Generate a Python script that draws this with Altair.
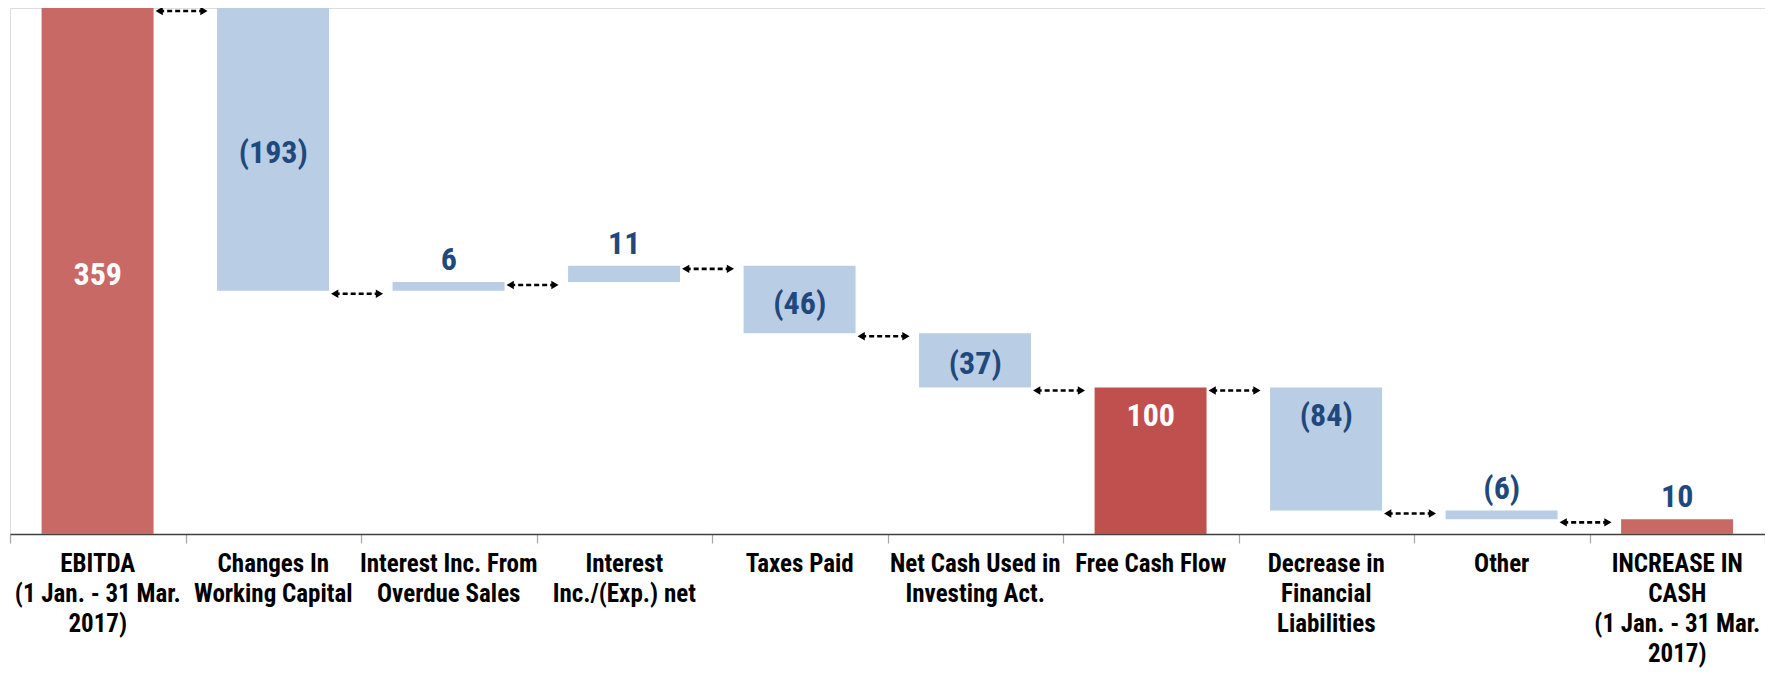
import altair as alt
import pandas as pd

categories = [
    "EBITDA\n(1 Jan. - 31 Mar.\n2017)",
    "Changes In\nWorking Capital",
    "Interest Inc. From\nOverdue Sales",
    "Interest\nInc./(Exp.) net",
    "Taxes Paid",
    "Net Cash Used in\nInvesting Act.",
    "Free Cash Flow",
    "Decrease  in\nFinancial\nLiabilities",
    "Other",
    "INCREASE IN\nCASH\n(1 Jan. -  31 Mar.\n2017)",
]
values = [359, -193, 6, 11, -46, -37, 100, -84, -6, 10]
bar_kind = ["total_a", "delta", "delta", "delta", "delta", "delta", "total_b", "delta", "delta", "total_a"]
value_labels = ["359", "(193)", "6", "11", "(46)", "(37)", "100", "(84)", "(6)", "10"]
label_place = ["center", "center", "above", "above", "center", "center", "inside", "inside", "above", "above"]

FONT = "Roboto Condensed"
BLUE_TXT = "#1F497D"

rows = []
level = 0
for i, (c, v, k, lab, pl) in enumerate(zip(categories, values, bar_kind, value_labels, label_place)):
    if k.startswith("total"):
        s, e = 0, v
    else:
        s, e = level, level + v
    level = e
    txtc = "white" if (k.startswith("total") and pl != "above") else BLUE_TXT
    rows.append(dict(idx=i, category=c, start=s, end=e, top=max(s, e), mid=(s + e) / 2,
                     kind=k, label=lab, place=pl, txtcolor=txtc))
df = pd.DataFrame(rows)

arrows = pd.DataFrame([dict(idx=i, level=df.loc[i, "end"]) for i in range(len(df) - 1)])

W, H = 1755, 526
xs = alt.Scale(domain=[0, 10], nice=False, zero=False)
ys = alt.Scale(domain=[0, 359], nice=False, zero=False)

base = alt.Chart(df)

bars = base.transform_calculate(
    x1="datum.idx + 0.18", x2="datum.idx + 0.818"
).mark_bar(stroke=None).encode(
    x=alt.X("x1:Q", scale=xs, axis=alt.Axis(values=list(range(11)), labels=False, ticks=True,
                                            tickSize=9, tickColor="#A6A6A6", tickWidth=1.2,
                                            domainColor="#404040", domainWidth=1.5,
                                            grid=False, title=None)),
    x2="x2:Q",
    y=alt.Y("start:Q", scale=ys, axis=None),
    y2="end:Q",
    color=alt.Color("kind:N", legend=None,
                    scale=alt.Scale(domain=["total_a", "total_b", "delta"],
                                    range=["#C86966", "#C0504D", "#B9CDE5"])),
)

cat_text = base.transform_calculate(xc="datum.idx + 0.5").mark_text(
    font=FONT, fontSize=25, fontWeight="bold", baseline="top", align="center",
    lineBreak="\n", lineHeight=30, color="black"
).encode(x=alt.X("xc:Q", scale=xs), y=alt.value(H + 18), text="category:N")

def val_layer(place, field, dy):
    return base.transform_filter(alt.datum.place == place).transform_calculate(
        xc="datum.idx + 0.5").mark_text(
        font=FONT, fontSize=32, fontWeight="bold", baseline="middle", align="center", dy=dy
    ).encode(x=alt.X("xc:Q", scale=xs), y=alt.Y(f"{field}:Q", scale=ys),
             text="label:N", color=alt.Color("txtcolor:N", scale=None))

v_center = val_layer("center", "mid", 4)
v_inside = val_layer("inside", "top", 29)
v_above = val_layer("above", "top", -22)

abase = alt.Chart(arrows).transform_calculate(
    a1="datum.idx + 0.85", a2="datum.idx + 1.105")
arrow_line = abase.mark_rule(color="black", strokeWidth=2.6, strokeDash=[5, 3], yOffset=3).encode(
    x=alt.X("a1:Q", scale=xs), x2="a2:Q", y=alt.Y("level:Q", scale=ys))
head_l = abase.mark_point(shape="triangle-left", filled=True, size=70, color="black",
                          opacity=1, yOffset=3).encode(
    x=alt.X("a1:Q", scale=xs), y=alt.Y("level:Q", scale=ys))
head_r = abase.mark_point(shape="triangle-right", filled=True, size=70, color="black",
                          opacity=1, yOffset=3).encode(
    x=alt.X("a2:Q", scale=xs), y=alt.Y("level:Q", scale=ys))

chart = alt.layer(bars, arrow_line, head_l, head_r, v_center, v_inside, v_above, cat_text).properties(
    width=W, height=H,
    autosize=alt.AutoSizeParams(type="none"),
    padding={"left": 2, "right": 0, "top": 0, "bottom": 137},
).configure_view(stroke=None).configure(background="white")

chart.save("out.html", embed_options={"renderer": "svg", "actions": False})
